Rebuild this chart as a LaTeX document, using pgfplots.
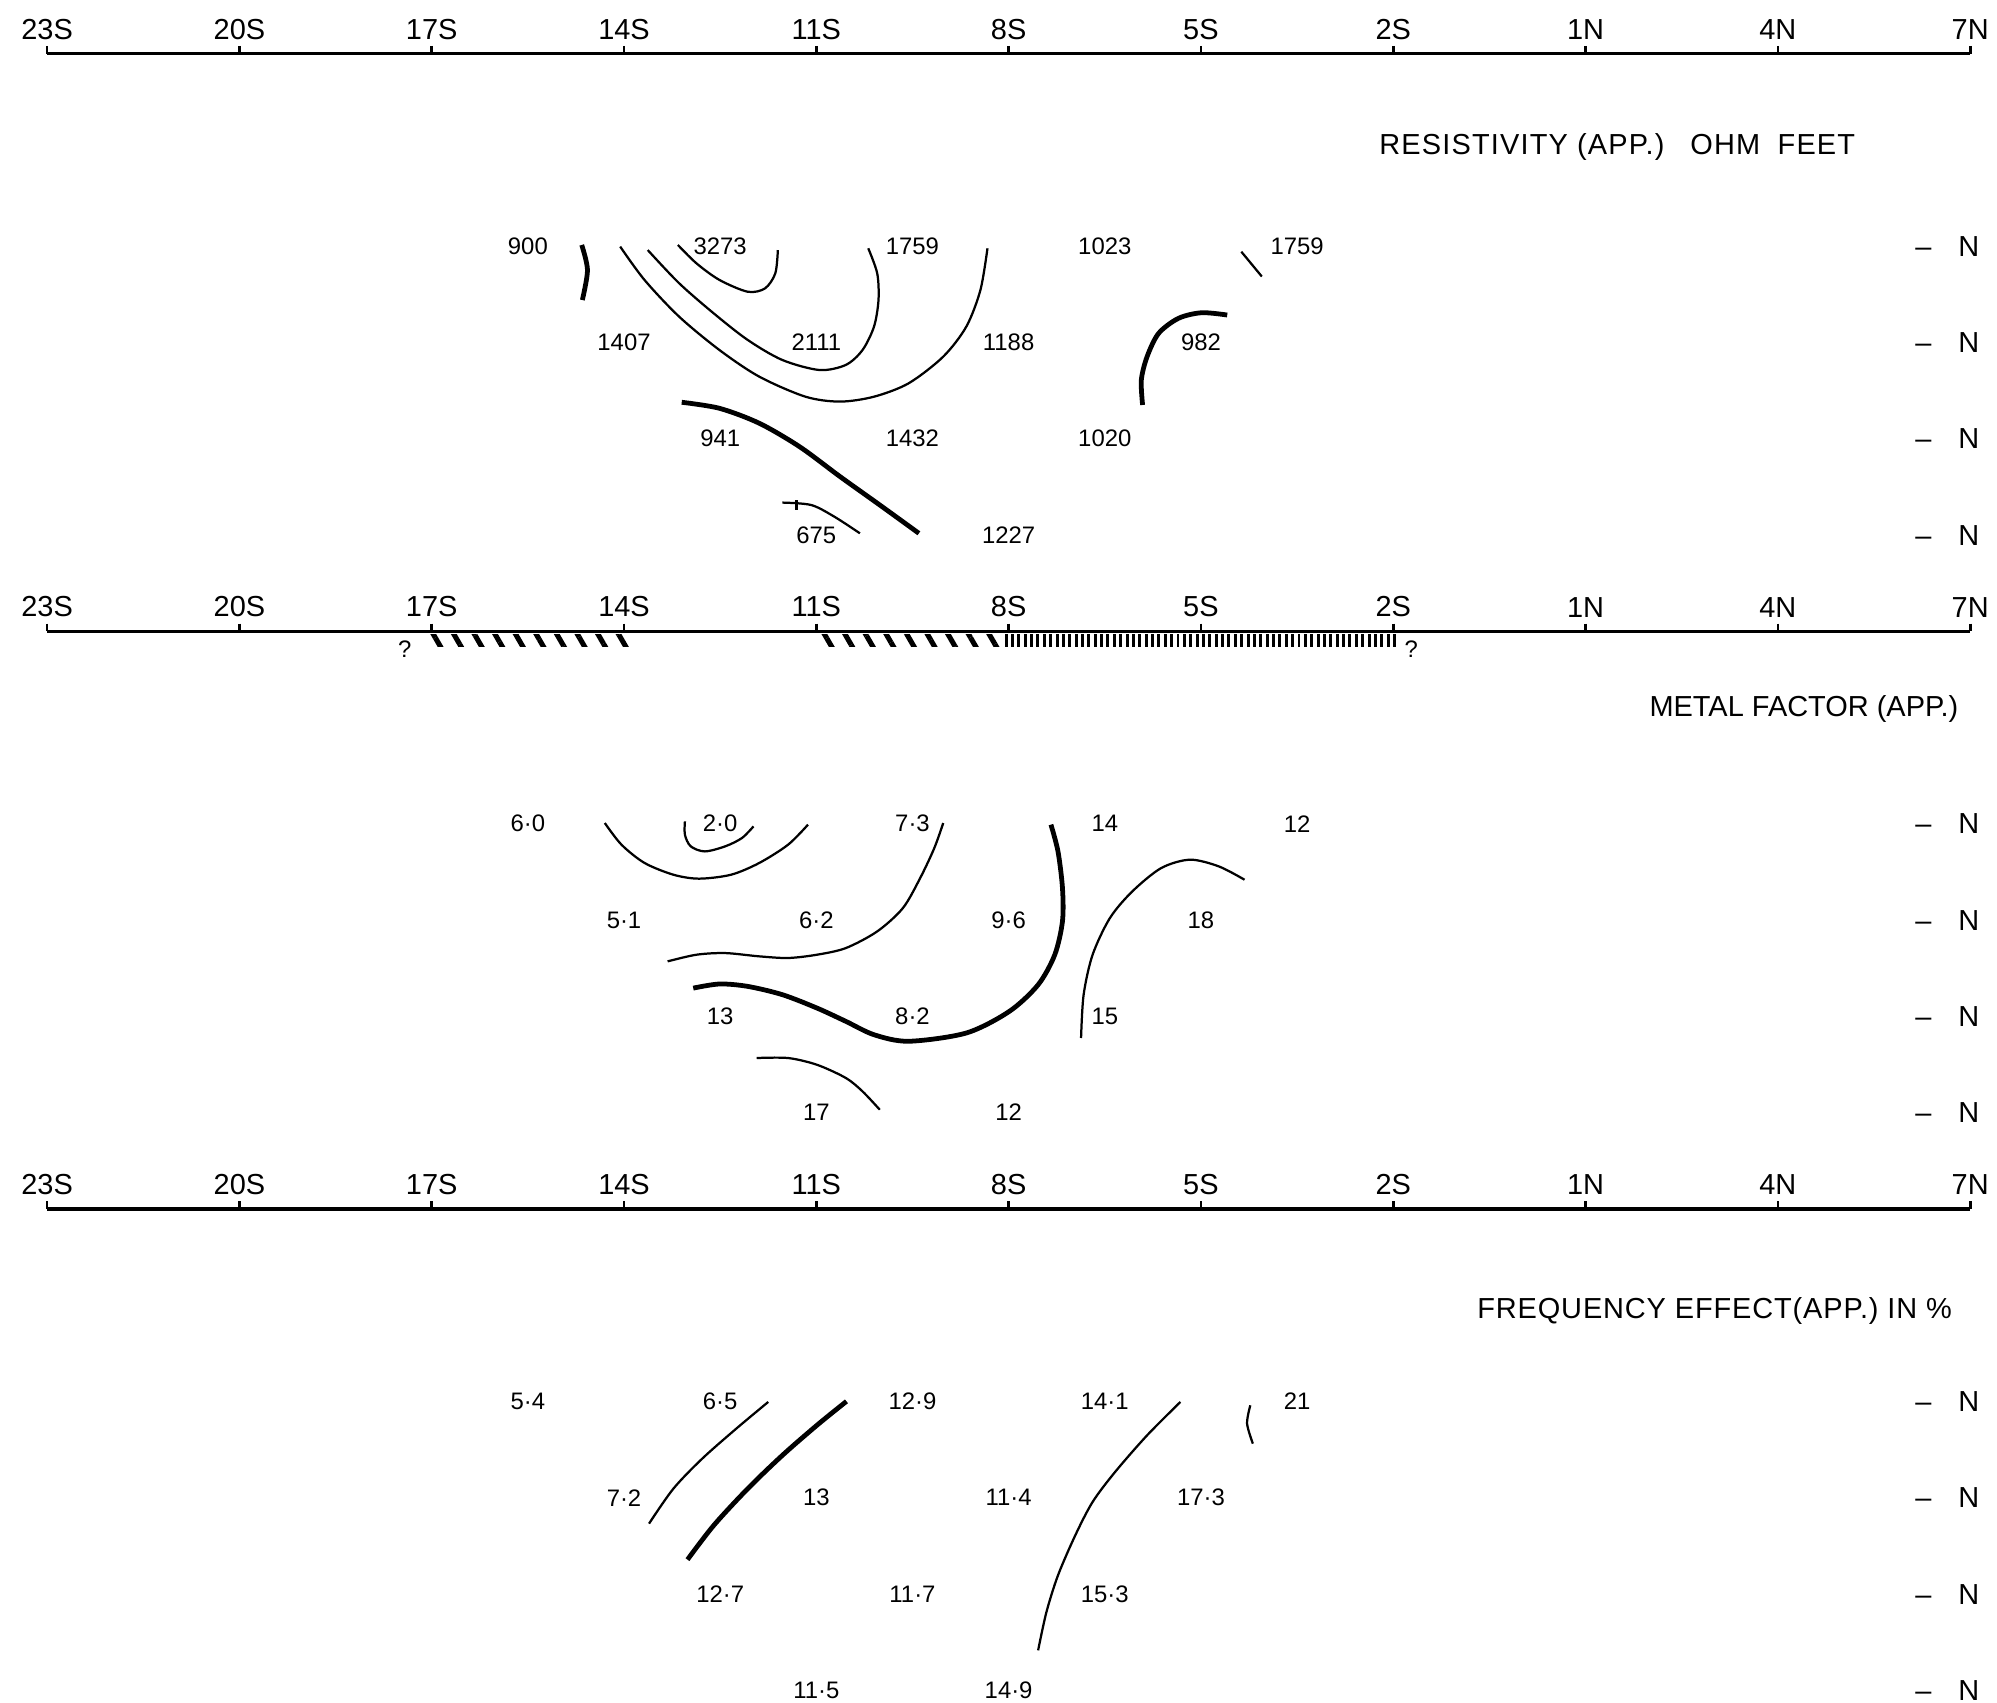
\documentclass[border=0pt]{standalone}
\usepackage{pgfplots}
\pgfplotsset{compat=1.18}
\usepackage{pgfplotstable}
\usepackage{fontspec}
\setmainfont{Liberation Sans}
\usetikzlibrary{patterns.meta}

\newcommand{\tickfont}{\fontsize{9.7}{11}\selectfont}
\newcommand{\datafont}{\fontsize{8}{9}\selectfont}

\pgfplotsset{
  panel/.style={
    x=0.755cm, y=1.134cm,
    xmin=-23, xmax=7, ymin=-5.3, ymax=0,
    axis x line=top, axis y line=none,
    axis line style={-, line width=1.1pt},
    xtick={-23,-20,-17,-14,-11,-8,-5,-2,1,4,7},
    xticklabels={23S,20S,17S,14S,11S,8S,5S,2S,1N,4N,7N},
    xtick align=outside,
    major tick length=0.9mm,
    tick style={line width=0.9pt, black},
    x tick label style={font=\tickfont, inner sep=2pt},
    clip=false,
    anchor=north west,
  },
  cthin/.style={line width=0.75pt, smooth, tension=0.5, mark=none, black},
  cthick/.style={line width=1.6pt, smooth, tension=0.5, mark=none, black},
  lbl/.style={only marks, mark=none, point meta=explicit symbolic, nodes near coords,
     every node near coord/.append style={anchor=center, font=\datafont, inner sep=0pt}},
}

\pgfplotstableread{
x y t
-15.5 -2 900
-12.5 -2 3273
-9.5 -2 1759
-6.5 -2 1023
-3.5 -2 1759
-14 -3 1407
-11 -3 2111
-8 -3 1188
-5 -3 982
-12.5 -4 941
-9.5 -4 1432
-6.5 -4 1020
-11 -5 675
-8 -5 1227
}\resdata

\pgfplotstableread{
x y t
-15.5 -2 6·0
-12.5 -2 2·0
-9.5 -2 7·3
-6.5 -2 14
-3.5 -2 12
-14 -3 5·1
-11 -3 6·2
-8 -3 9·6
-5 -3 18
-12.5 -4 13
-9.5 -4 8·2
-6.5 -4 15
-11 -5 17
-8 -5 12
}\mfdata

\pgfplotstableread{
x y t
-15.5 -2 5·4
-12.5 -2 6·5
-9.5 -2 12·9
-6.5 -2 14·1
-3.5 -2 21
-14 -3 7·2
-11 -3 13
-8 -3 11·4
-5 -3 17·3
-12.5 -4 12·7
-9.5 -4 11·7
-6.5 -4 15·3
-11 -5 11·5
-8 -5 14·9
}\fedata

\newcommand{\nlabels}{%
  \pgfplotsinvokeforeach{-2,-3,-4,-5}{%
    \node[font=\tickfont, anchor=base, inner sep=0pt] at (axis cs:6.27,##1-0.105) {–};
    \node[font=\tickfont, anchor=base, inner sep=0pt] at (axis cs:6.98,##1-0.105) {N};
  }%
}

\begin{document}
\begin{tikzpicture}
% ---------------- Resistivity ----------------
\begin{axis}[panel, at={(0,0)}]
\coordinate (TL) at (axis cs:-23.735,0.556);
\addplot[lbl] table[x=x,y=y,meta=t]{\resdata};
\node[anchor=east, font=\tickfont] at (axis cs:5.37,-0.966)
  {\addfontfeature{LetterSpace=4}RESISTIVITY (APP.)\hspace{0.9em}OHM\hspace{0.6em}FEET};
\nlabels
\addplot[cthick] coordinates {(-14.66,-1.988)(-14.57,-2.249)(-14.65,-2.560)};
\addplot[cthin] coordinates {(-14.06,-2.005)(-13.68,-2.352)(-13.14,-2.733)(-12.51,-3.080)(-11.89,-3.356)(-11.17,-3.564)(-10.63,-3.615)(-10.10,-3.564)(-9.56,-3.425)(-9.02,-3.148)(-8.66,-2.836)(-8.44,-2.456)(-8.33,-2.023)};
\addplot[cthin] coordinates {(-13.63,-2.041)(-13.14,-2.386)(-12.60,-2.699)(-12.07,-2.975)(-11.53,-3.183)(-10.95,-3.287)(-10.54,-3.234)(-10.28,-3.080)(-10.10,-2.836)(-10.03,-2.560)(-10.05,-2.283)(-10.19,-2.023)};
\addplot[cthin] coordinates {(-13.16,-1.988)(-12.87,-2.179)(-12.51,-2.352)(-12.07,-2.474)(-11.80,-2.439)(-11.64,-2.283)(-11.60,-2.041)};
\addplot[cthick] coordinates {(-13.10,-3.622)(-12.51,-3.685)(-11.89,-3.840)(-11.26,-4.084)(-10.63,-4.394)(-10.01,-4.689)(-9.40,-4.983)};
\addplot[cthin] coordinates {(-11.53,-4.664)(-11.08,-4.689)(-10.72,-4.810)(-10.32,-4.983)};
\addplot[cthin] coordinates {(-11.31,-4.64)(-11.31,-4.74)};
\addplot[cthick] coordinates {(-4.59,-2.716)(-4.99,-2.692)(-5.35,-2.750)(-5.66,-2.906)(-5.84,-3.148)(-5.93,-3.390)(-5.91,-3.650)};
\addplot[cthin] coordinates {(-4.37,-2.058)(-4.05,-2.316)};
\end{axis}

% ---------------- Metal factor ----------------
\begin{axis}[panel, at={(0,-6.804cm)}]
\addplot[lbl] table[x=x,y=y,meta=t]{\mfdata};
\node[anchor=east, font=\tickfont] at (axis cs:6.98,-0.807) {METAL FACTOR (APP.)};
\nlabels
\addplot[draw=none, pattern={Lines[angle=-60,distance=2.1mm,line width=0.6mm]}] coordinates {(-17.12,-0.03)(-13.86,-0.03)(-13.86,-0.16)(-17.12,-0.16)} -- cycle;
\addplot[draw=none, pattern={Lines[angle=-60,distance=2.1mm,line width=0.6mm]}] coordinates {(-11.02,-0.03)(-8.14,-0.03)(-8.14,-0.16)(-11.02,-0.16)} -- cycle;
\addplot[draw=none, pattern={Lines[angle=90,distance=0.75mm,line width=0.35mm]}] coordinates {(-8.10,-0.03)(-1.94,-0.03)(-1.94,-0.16)(-8.10,-0.16)} -- cycle;
\node[font=\datafont] at (axis cs:-17.42,-0.19) {?};
\node[font=\datafont] at (axis cs:-1.72,-0.19) {?};
\addplot[cthin] coordinates {(-14.30,-1.992)(-14.04,-2.217)(-13.68,-2.407)(-13.23,-2.529)(-12.83,-2.570)(-12.33,-2.529)(-11.89,-2.407)(-11.44,-2.217)(-11.13,-2.009)};
\addplot[cthin] coordinates {(-13.05,-1.975)(-13.05,-2.114)(-12.96,-2.234)(-12.74,-2.287)(-12.42,-2.234)(-12.16,-2.148)(-11.98,-2.027)};
\addplot[cthin] coordinates {(-9.02,-1.992)(-9.16,-2.253)(-9.38,-2.564)(-9.65,-2.876)(-10.05,-3.118)(-10.54,-3.291)(-10.99,-3.360)(-11.44,-3.394)(-11.89,-3.377)(-12.42,-3.343)(-12.87,-3.360)(-13.32,-3.429)};
\addplot[cthick] coordinates {(-7.34,-2.009)(-7.23,-2.287)(-7.16,-2.668)(-7.16,-3.013)(-7.28,-3.360)(-7.54,-3.672)(-7.99,-3.949)(-8.66,-4.173)(-9.56,-4.259)(-10.10,-4.191)(-10.54,-4.052)(-10.99,-3.914)(-11.53,-3.775)(-12.07,-3.689)(-12.51,-3.664)(-12.92,-3.707)};
\addplot[cthin] coordinates {(-6.87,-4.225)(-6.83,-3.775)(-6.69,-3.360)(-6.42,-2.979)(-6.07,-2.702)(-5.62,-2.460)(-5.17,-2.373)(-4.72,-2.443)(-4.32,-2.581)};
\addplot[cthin] coordinates {(-11.93,-4.433)(-11.44,-4.433)(-10.99,-4.503)(-10.54,-4.640)(-10.28,-4.779)(-10.01,-4.970)};
\end{axis}

% ---------------- Frequency effect ----------------
\begin{axis}[panel, at={(0,-13.608cm)}]
\coordinate (BR) at (axis cs:7.419,-5.125);
\addplot[lbl] table[x=x,y=y,meta=t]{\fedata};
\node[anchor=east, font=\tickfont] at (axis cs:6.88,-1.058) {\addfontfeature{LetterSpace=3}FREQUENCY EFFECT(APP.) IN \%};
\nlabels
\addplot[cthin] coordinates {(-11.75,-2.005)(-12.25,-2.283)(-12.78,-2.594)(-13.23,-2.906)(-13.61,-3.269)};
\addplot[cthick] coordinates {(-10.53,-1.999)(-10.99,-2.247)(-11.53,-2.560)(-12.07,-2.906)(-12.60,-3.287)(-13.01,-3.643)};
\addplot[cthin] coordinates {(-5.32,-2.005)(-5.84,-2.352)(-6.34,-2.733)(-6.69,-3.044)(-6.96,-3.390)(-7.23,-3.806)(-7.41,-4.187)(-7.54,-4.585)};
\addplot[cthin] coordinates {(-4.23,-2.040)(-4.28,-2.230)(-4.19,-2.438)};
\end{axis}
\pgfresetboundingbox
\path (TL) rectangle (BR);
\end{tikzpicture}
\end{document}
